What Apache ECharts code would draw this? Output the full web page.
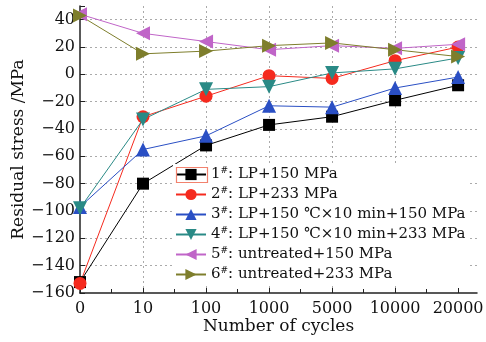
<!DOCTYPE html>
<html>
<head>
<meta charset="utf-8">
<script src="https://cdn.jsdelivr.net/npm/echarts@6/dist/echarts.min.js"></script>
<style>
  html, body { margin: 0; padding: 0; background: #fff; }
  #chart { width: 486px; height: 342px; }
</style>
</head>
<body>
<div id="chart"></div>
<script>
// cycle counts shown on the x axis (plotted at even spacing)
const cycles = ['0', '10', '100', '1000', '5000', '10000', '20000'];

const names = [
  '1#: LP+150 MPa',
  '2#: LP+233 MPa',
  '3#: LP+150 ℃×10 min+150 MPa',
  '4#: LP+150 ℃×10 min+233 MPa',
  '5#: untreated+150 MPa',
  '6#: untreated+233 MPa'
];

const s1 = [-152, -80, -52, -37, -31, -19, -8];
const s2 = [-153, -31, -16, -1, -3, 10, 20];
const s3 = [-97, -55, -45, -23, -24, -10, -2];
const s4 = [-98, -33, -11, -9, 1, 4, 12];
const s5 = [44, 30, 24, 18, 21, 19, 22];
const s6 = [43, 15, 17, 21, 23, 18, 13];

const colors = ['#000000', '#f52a1e', '#2a4fc4', '#2a8a86', '#c065c8', '#7e7e2c'];
const symbols = ['rect', 'circle', 'triangle', 'triangle', 'triangle', 'triangle'];
const rotates = [0, 0, 0, 180, 90, -90];
const sizes = [12, 13, 14, 14, 14, 14];

const font = '"DejaVu Serif", "Liberation Serif", serif';
const minus = v => String(v).replace('-', '\u2212');

const chart = echarts.init(document.getElementById('chart'));

const allData = [s1, s2, s3, s4, s5, s6];
const series = allData.map((d, i) => ({
  name: names[i],
  type: 'line',
  data: d.map((v, j) => [j, v]),
  symbol: symbols[i],
  symbolSize: sizes[i],
  symbolRotate: rotates[i],
  showAllSymbol: true,
  itemStyle: { color: colors[i] },
  lineStyle: { color: colors[i], width: 1 }
}));

chart.setOption({
  animation: false,
  grid: { left: 80, right: 9, top: 6, bottom: 49, outerBoundsMode: 'none' },
  legend: {
    orient: 'vertical',
    left: 173,
    top: 164,
    itemGap: 4,
    itemWidth: 30,
    itemHeight: 14,
    padding: [2, 4, 2, 2],
    backgroundColor: '#fff',
    data: names,
    formatter: n => {
      const idx = n.indexOf('#');
      return '{n|' + n.slice(0, idx) + '}{s|#}{n|' + n.slice(idx + 1) + '}';
    },
    textStyle: {
      rich: {
        n: { fontFamily: font, fontSize: 15, color: '#111' },
        s: { fontFamily: font, fontSize: 9, color: '#111', verticalAlign: 'top', padding: [0, 0, 8, 0] }
      }
    }
  },
  // highlight frame around the first legend key, as in the source figure
  graphic: [{
    type: 'rect',
    left: 174,
    top: 165,
    shape: { width: 31, height: 15 },
    style: { fill: 'none', stroke: '#f2826e', lineWidth: 1.2 },
    z: 100
  }],
  xAxis: {
    type: 'value',
    min: 0,
    max: 6.3,
    interval: 1,
    name: 'Number of cycles',
    nameLocation: 'middle',
    nameGap: 25,
    nameMoveOverlap: false,
    nameTextStyle: { fontFamily: font, fontSize: 17, color: '#111' },
    axisLine: { onZero: false, lineStyle: { color: '#222', width: 1.5 } },
    axisTick: { inside: true, length: 5, lineStyle: { color: '#222' }, customValues: [0, 1, 2, 3, 4, 5, 6] },
    minorTick: { show: true, splitNumber: 2, length: 4, lineStyle: { color: '#222' } },
    axisLabel: {
      customValues: [0, 1, 2, 3, 4, 5, 6],
      formatter: v => cycles[Math.round(v)] || '',
      fontFamily: font, fontSize: 16, color: '#111', margin: 8
    },
    splitLine: {
      show: true, showMinLine: false, showMaxLine: false,
      lineStyle: { type: [2, 3], color: '#aaa', width: 1 }
    }
  },
  yAxis: {
    type: 'value',
    min: -160,
    max: 50,
    interval: 20,
    name: 'Residual stress /MPa',
    nameLocation: 'middle',
    nameGap: 53,
    nameMoveOverlap: false,
    nameTextStyle: { fontFamily: font, fontSize: 17, color: '#111' },
    axisLine: { show: true, onZero: false, lineStyle: { color: '#222', width: 1.5 } },
    axisTick: { show: true, inside: true, length: 5, lineStyle: { color: '#222' } },
    axisLabel: {
      formatter: v => (v % 20 === 0 ? minus(v) : ''),
      fontFamily: font, fontSize: 16, color: '#111', margin: 5
    },
    splitLine: {
      show: true, showMinLine: false, showMaxLine: false,
      lineStyle: { type: [2, 3], color: '#aaa', width: 1 }
    }
  },
  series: series
});
</script>
</body>
</html>
